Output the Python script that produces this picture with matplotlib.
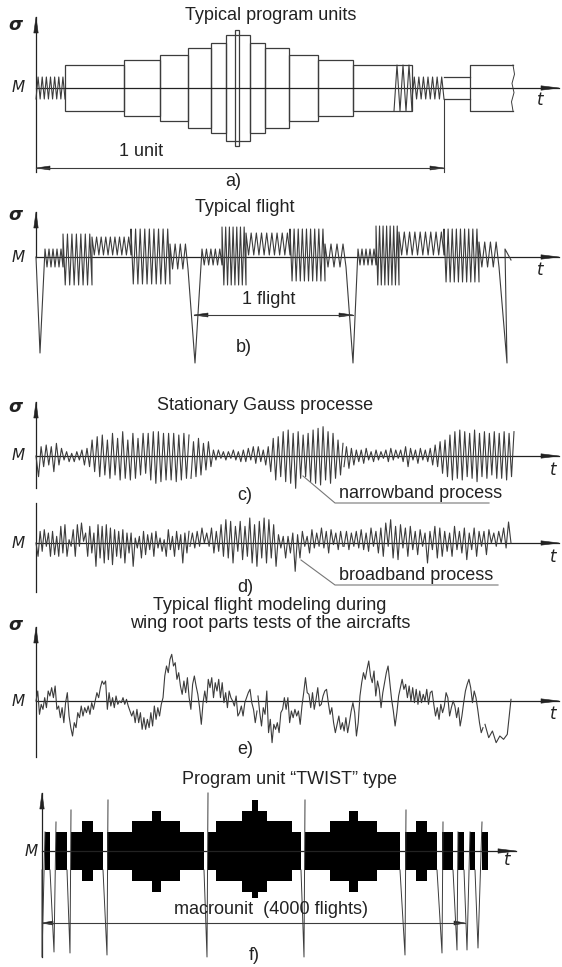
import numpy as np
import matplotlib.pyplot as plt
from matplotlib.patches import Rectangle, Polygon

plt.rcParams['font.family'] = ['Liberation Sans', 'DejaVu Sans']

W, H = 562, 967
INK = '#222222'
LINE = '#3c3c3c'
LW = 0.9

# ---------------------------------------------------------------- data
# a) program units: block edges (time) and half amplitudes
a_edges = [65, 124, 160, 188, 211, 226, 250, 265, 289, 318, 353, 412]
a_half = [23, 28, 33, 40, 45, 53, 45, 40, 33, 28, 23]
a_core = [235, 239]
a_core_half = 58
a_coils = [(36, 65, 7, 11), (394, 412, 3, 23), (412, 444, 7, 11)]
a_link = (444, 470, 11)
a_tail = (470, 513, 23)
a_unit = (36, 444)

# b) typical flight: ground-air-ground lows and flight segments
b_gag_x = [40, 195, 353]
b_gag_low = [-96, -106, -106]
b_flights = [
    [(45, 63, 5, 8, -10), (63, 92, 7, 23, -28), (92, 131, 9, 20, 2),
     (131, 170, 9, 28, -27), (170, 188, 4, 13, -12)],
    [(202, 222, 5, 8, -8), (222, 246, 7, 30, -28), (246, 290, 9, 24, 2),
     (290, 325, 9, 28, -24), (325, 346, 4, 13, -10)],
    [(358, 376, 5, 8, -8), (376, 399, 7, 31, -28), (399, 444, 9, 25, 2),
     (444, 479, 9, 28, -25), (479, 499, 4, 15, -10)],
]
b_end_x = [507, 505, 511]
b_end_y = [-106, 8, -3]
b_flight = (194, 353)

# c) narrowband process (three stretches of extrema)
c_span = [(36, 189), (191, 343), (344, 514)]
c_seg1 = [0, -62, 28, -32, 33, -27, 28, -47, 38, -27, 23, -12, 13, -17, 8, -17,
          13, -12, 18, -27, 23, -32, 48, -47, 58, -62, 63, -57, 48, -67, 68, -57,
          53, -72, 73, -67, 48, -72, 68, -67, 53, -57, 68, -52, 68, -72, 73, -82,
          73, -77, 68, -72, 68, -72, 68, -77, 63, -72, 68, -67, 63]
c_seg2 = [-67, 43, -62, 53, -57, 38, -42, 43, -32, 18, -12, 18, -7, 13, -12, 13,
          -7, 18, -12, 13, -17, 18, -17, 23, -12, 28, -22, 28, -17, 18, -27, 28,
          -47, 53, -72, 58, -62, 73, -77, 78, -82, 68, -97, 73, -67, 63, -62, 68,
          -77, 78, -82, 83, -87, 88, -72, 73, -82, 68, -67, 48, -57, 38]
c_seg3 = [-32, 28, -37, 23, -27, 18, -17, 18, -22, 23, -12, 13, -17, 18, -12, 13,
          -7, 18, -17, 23, -12, 18, -7, 18, -17, 28, -32, 23, -12, 18, -22, 23,
          -12, 18, -17, 23, -27, 33, -32, 43, -52, 48, -62, 63, -72, 73, -67, 78,
          -72, 73, -62, 68, -67, 78, -77, 68, -62, 73, -67, 68, -57, 73, -67, 68,
          -67, 73, -72, 68, -62, 73]

# d) broadband process
d_span = [(36, 189), (190, 343), (344, 511)]
d_seg1 = [0, -40, 35, -25, 40, -10, 30, -40, 35, -35, 20, -40, 50, -30, 55, -40,
          10, -10, 40, -40, 55, -10, 60, 5, 30, -40, 50, -30, 30, -70, 55, -45,
          50, -60, 55, -50, 45, -65, 40, -40, 35, -45, 40, -60, 30, -30, 30, -70,
          15, -15, 20, -45, 35, -35, 25, -20, 30, -40, 35, -15, 15, -25, 10, -40,
          40, -20, 20, -40, 35, -20, 25, -60, 30, -30, 35]
d_seg2 = [-10, 30, -15, 35, -10, 45, 0, 30, -10, 45, -30, 35, -25, 55, -40, 70,
          -45, 65, -60, 50, -25, 65, -50, 50, -40, 75, -60, 55, -70, 65, -45, 75,
          -60, 70, -45, 55, -70, 25, -15, 20, -45, 20, -30, 30, -85, 25, -45, 35,
          -10, 20, -30, 40, -15, 30, -10, 45, -15, 35, -30, 40, -5, 30, -20, 35, -10]
d_seg3 = [-10, 35, -20, 30, -10, 35, -15, 40, -20, 30, -25, 45, -10, 35, -30, 45,
          -40, 60, -10, 70, -45, 50, -50, 55, -15, 45, -40, 50, -20, 35, -35, 40,
          -10, 30, -60, 35, -20, 50, -45, 45, -40, 35, -25, 30, -40, 50, -20, 35,
          -30, 45, -50, 30, -20, 45, -40, 35, -10, 35, -35, 40, 0, 30, -10, 35,
          0, 45, -15, 63, 0]

# e) flight modelling for wing root parts
e_span = [(36, 257), (258, 483), (485, 511)]
e_seg1 = [0, 30, -40, -10, -25, 10, -20, 30, 15, 40, 10, 45, -25, -15, -50, -20,
          -65, -5, 25, -45, -80, -105, -65, -80, -35, -50, -15, -45, -20, -35, -15, -40,
          -5, -25, 0, 25, 10, 40, 60, 50, 60, -25, 25, -15, 10, -20, 15, -10,
          0, -5, 10, -10, 5, -15, -30, -45, -30, -65, -25, -65, -35, -85, -50, -85,
          -55, -80, -35, -75, -15, -55, -20, -45, -10, 10, 75, 105, 85, 125, 140, 105,
          115, 65, 85, 45, 20, 60, 25, 70, 10, -25, 50, 75, 45, 20, -20, -70,
          -5, 30, -5, 65, 40, 70, 10, 55, 30, 65, 10, 55, -5, 25, -20, 30,
          10, 0, -15, 15, -45, -35, -15, -45, -5, 10, 25, 35, -5, -25, -65, -30]
e_seg2 = [15, -35, -75, -20, -40, 30, -95, -55, -125, -70, -85, -65, -95, -35, -25, 10,
          -25, 10, -65, -30, -50, -25, -45, -30, -70, -15, 25, 70, 25, 20, -20, 25,
          -25, 5, 40, -15, -10, 15, 30, 35, -5, -40, -20, -65, -95, -70, -45, -85,
          -65, -90, -50, -95, -65, -30, -5, -35, -105, -65, 15, 55, 85, 65, 95, 120,
          75, 55, 90, 15, 60, 35, -20, 25, 55, 85, 105, 55, 5, -30, -75, -35,
          15, 40, 65, 35, 50, 10, 45, 0, 40, -5, 35, -10, 30, -5, 20, 0,
          35, -10, 25, 30, -10, -45, -20, -55, -10, -35, -15, 25, 10, -45, -20, 0,
          -15, -50, -20, -75, -45, -5, 30, 50, 65, 40, -5, 30, 10, -25, -65, -95, -80]
e_seg3 = [-70, -110, -90, -125, -105, -115, -100, 5]

# f) TWIST program unit: blocks, levels, ground-air-ground cycles
f_x0 = [45, 56, 71, 82, 93, 107, 132, 152, 161, 180, 208, 216, 242, 252, 258,
        267, 292, 305, 330, 349, 358, 377, 405, 416, 427, 442, 458, 470, 482]
f_x1 = [50, 67, 82, 93, 103, 132, 152, 161, 180, 204, 216, 242, 252, 258, 267,
        292, 301, 330, 349, 358, 377, 400, 416, 427, 437, 453, 464, 475, 488]
f_lvl = [1, 1, 1, 2, 1, 1, 2, 3, 2, 1, 1, 2, 3, 4, 3,
         2, 1, 1, 2, 3, 2, 1, 1, 2, 1, 1, 1, 1, 1]
f_top = [19, 30, 40, 51]
f_bot = [19, 30, 41, 47]
f_gag_start = [42, 50, 67, 103, 204, 301, 400, 437, 453, 464, 475]
f_gag_low_x = [42, 54, 70, 107, 207, 304, 405, 442, 457, 467, 478]
f_gag_peak_x = [45, 56, 71, 108, 208, 305, 406, 443, 458, 470, 482]
f_gag_peak = [19, 29, 41, 51, 58, 51, 41, 29, 19, 19, 29]
f_gag_low = [-106, -101, -102, -104, -106, -106, -104, -102, -99, -99, -97]
f_macro = (42, 465)

# ---------------------------------------------------------------- helpers
fig = plt.figure(figsize=(W / 100, H / 100), dpi=100)


def panel(top, bottom, m, k=1.0):
    a = fig.add_axes([0, 1 - bottom / H, 1, (bottom - top) / H])
    a.set_xlim(0, W)
    a.set_ylim((m - bottom) * k, (m - top) * k)
    a.axis('off')
    return a


def head(a, x, y, d, k=1.0, length=16, half=2.2):
    if d == 'up':
        pts = [(x, y), (x - half, y - length * k), (x + half, y - length * k)]
    elif d == 'right':
        pts = [(x, y), (x - length, y + half * k), (x - length, y - half * k)]
    else:
        pts = [(x, y), (x + length, y + half * k), (x + length, y - half * k)]
    a.add_patch(Polygon(pts, closed=True, fc=INK, ec=INK, lw=0.4, clip_on=False))


def frame(a, m, k, ytop, ybot, x0=36, xt=559, arrow=True):
    a.plot([x0, x0], [(m - ybot) * k, (m - ytop) * k], color=INK, lw=LW, clip_on=False)
    if arrow:
        head(a, x0, (m - ytop) * k, 'up', k)
    a.plot([x0, xt], [0, 0], color=INK, lw=LW, clip_on=False)
    head(a, xt, 0, 'right', k, length=18)


def dim(a, x0, x1, y, length=14):
    a.plot([x0, x1], [y, y], color=LINE, lw=0.8, clip_on=False)
    head(a, x0, y, 'left', 1, length=length, half=2)
    head(a, x1, y, 'right', 1, length=length, half=2)


def zigzag(x0, x1, n, hi, lo):
    xs = np.linspace(x0, x1, 2 * n)
    ys = np.tile([hi, lo], n)
    return list(xs), list(ys)


def coil(x0, x1, n, h):
    xs = np.linspace(x0, x1, 2 * n + 1)
    ys = np.where(np.arange(2 * n + 1) % 2 == 0, -h, h)
    return xs, ys


def trace(a, spans, segs):
    for (x0, x1), s in zip(spans, segs):
        a.plot(np.linspace(x0, x1, len(s)), s, color=LINE, lw=0.8, clip_on=False)


# ---------------------------------------------------------------- a)
A = panel(0, 200, 88)
frame(A, 88, 1, 17, 172)
for x0, x1, h in zip(a_edges[:-1], a_edges[1:], a_half):
    A.add_patch(Rectangle((x0, -h), x1 - x0, 2 * h, fill=False, ec=LINE, lw=LW))
A.add_patch(Rectangle((a_core[0], -a_core_half), a_core[1] - a_core[0],
                      2 * a_core_half, fill=False, ec=LINE, lw=LW))
for x0, x1, n, h in a_coils:
    xs, ys = coil(x0, x1, n, h)
    A.plot(xs, ys, color=LINE, lw=0.8)
A.plot([a_link[0], a_link[1]], [a_link[2]] * 2, color=LINE, lw=LW)
A.plot([a_link[0], a_link[1]], [-a_link[2]] * 2, color=LINE, lw=LW)
tx0, tx1, th = a_tail
A.plot([tx1, tx0, tx0, tx1], [th, th, -th, -th], color=LINE, lw=LW)
A.plot(tx1 + np.array([0, 1.5, -1, 1, -1.5, 0]), np.linspace(th, -th, 6),
       color=LINE, lw=0.7)
A.plot([a_unit[1]] * 2, [-11, -84], color=LINE, lw=0.8)
dim(A, a_unit[0], a_unit[1], -80)

# ---------------------------------------------------------------- b)
B = panel(200, 380, 257)
frame(B, 257, 1, 212, 257)
bx, by = [36], [0]
for gx, gl, flight in zip(b_gag_x, b_gag_low, b_flights):
    bx.append(gx)
    by.append(gl)
    for seg in flight:
        xs, ys = zigzag(*seg)
        bx += xs
        by += ys
bx += b_end_x
by += b_end_y
B.plot(bx, by, color=LINE, lw=0.8, clip_on=False)
dim(B, b_flight[0], b_flight[1], -58)

# ---------------------------------------------------------------- c), d)
C = panel(380, 500, 456, k=3)
frame(C, 456, 3, 402, 488)
trace(C, c_span, [c_seg1, c_seg2, c_seg3])

D = panel(495, 600, 543, k=3)
frame(D, 543, 3, 503, 592, arrow=False)
trace(D, d_span, [d_seg1, d_seg2, d_seg3])

# ---------------------------------------------------------------- e)
E = panel(595, 765, 701, k=3)
frame(E, 701, 3, 627, 757)
trace(E, e_span, [e_seg1, e_seg2, e_seg3])

# ---------------------------------------------------------------- f)
F = panel(765, 967, 851)
frame(F, 851, 1, 793, 957, x0=42, xt=516)
lv = np.array(f_lvl) - 1
tops = np.array(f_top)[lv]
bots = np.array(f_bot)[lv]
F.bar(f_x0, tops + bots, width=np.array(f_x1) - np.array(f_x0), bottom=-bots,
      align='edge', color='black', lw=0)
for s, lx, px, pk, lo in zip(f_gag_start, f_gag_low_x, f_gag_peak_x, f_gag_peak, f_gag_low):
    F.plot([s, lx, px], [-19, lo, pk], color=LINE, lw=0.7, clip_on=False)
dim(F, f_macro[0], f_macro[1], -72, length=11)

# ---------------------------------------------------------------- labels
ov = fig.add_axes([0, 0, 1, 1])
ov.set_xlim(0, W)
ov.set_ylim(H, 0)
ov.axis('off')

FS = 13
txt = dict(color=INK, fontsize=FS, ha='center', va='center')
ov.text(271, 16, 'Typical program units', **txt)
ov.text(141, 152, '1 unit', **txt)
ov.text(233, 182, 'a)', **txt)
ov.text(245, 208, 'Typical flight', **txt)
ov.text(269, 300, '1 flight', **txt)
ov.text(244, 347, 'b)', **txt)
ov.text(265, 406, 'Stationary Gauss processe', **txt)
ov.text(245, 495, 'c)', **txt)
ov.text(339, 494, 'narrowband process', color=INK, fontsize=FS, ha='left', va='center')
ov.text(245, 588, 'd)', **txt)
ov.text(339, 576, 'broadband process', color=INK, fontsize=FS, ha='left', va='center')
ov.text(270, 605, 'Typical flight modeling during', **txt)
ov.text(270, 623, 'wing root parts tests of the aircrafts', **txt)
ov.text(245, 750, 'e)', **txt)
ov.text(290, 780, 'Program unit \u201cTWIST\u201d type', **txt)
ov.text(271, 910, 'macrounit  (4000 flights)', **txt)
ov.text(254, 956, 'f)', **txt)

# leaders for c) and d)
ov.plot([303, 335, 489], [476, 503, 503], color='#777777', lw=0.8)
ov.plot([301, 335, 498], [560, 585, 585], color='#777777', lw=0.8)

sym = dict(color=INK, ha='center', va='center', family='DejaVu Sans', style='italic')
for y in [25, 215, 407, 625]:
    ov.text(15, y, '\u03c3', fontsize=13, weight='bold', **sym)
for x, y in [(18, 88), (18, 257), (18, 456), (18, 543), (18, 701), (31, 851)]:
    ov.text(x, y, 'M', fontsize=11, **sym)
for x, y in [(540, 100), (540, 270), (553, 470), (553, 557), (553, 714), (507, 860)]:
    ov.text(x, y, 't', fontsize=12, **sym)

fig.savefig('out.png', dpi=100)
